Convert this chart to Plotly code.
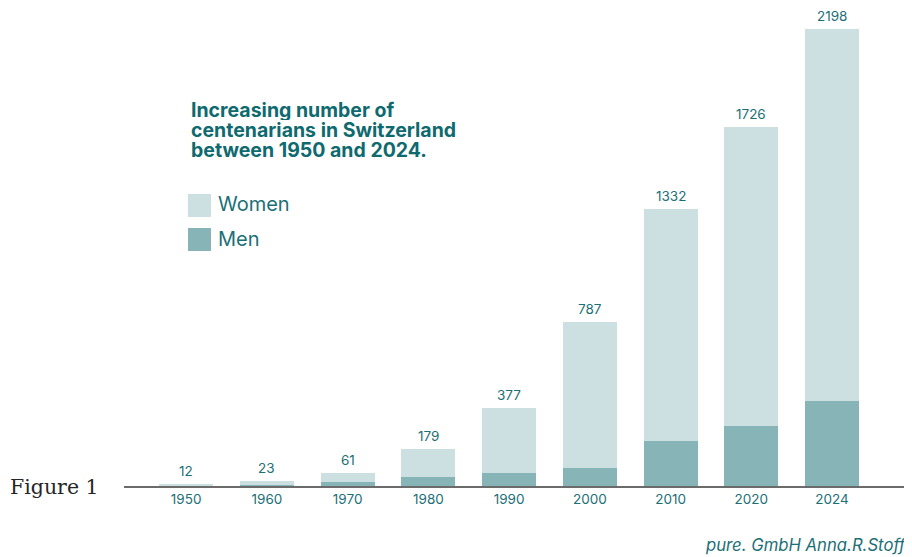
import plotly.graph_objects as go

years = ["1950", "1960", "1970", "1980", "1990", "2000", "2010", "2020", "2024"]
totals = [12, 23, 61, 179, 377, 787, 1332, 1726, 2198]
men = [3, 6, 17, 42, 62, 88, 216, 290, 410]
women = [t - m for t, m in zip(totals, men)]

TEAL = "#1b6f76"
TITLE = "#0e6a6f"
WOMEN_C = "#cce0e2"
MEN_C = "#86b4b7"

OFF = 8  # page body margin
W, H = 912 - OFF, 557 - OFF
L, R, T, B = 124 - OFF, 0, 0, 71
pw, ph = W - L - R, H - T - B


def px(x):
    return (x - OFF - L) / pw


def py(y):
    return (H - B - (y - OFF)) / ph


fig = go.Figure()
fig.add_trace(go.Bar(x=years, y=men, name="Men", marker_color=MEN_C,
                     marker_line_width=0, showlegend=False))
fig.add_trace(go.Bar(x=years, y=women, name="Women", marker_color=WOMEN_C,
                     marker_line_width=0, showlegend=False))

annotations = []
for i, tot in enumerate(totals):
    annotations.append(dict(x=i, y=tot, xref="x", yref="y", text=str(tot),
                            showarrow=False, yanchor="bottom", yshift=3,
                            font=dict(family="Inter", size=13.5, color=TEAL)))

title_lines = ["Increasing number of", "centenarians in Switzerland", "between 1950 and 2024."]
for i, line in enumerate(title_lines):
    annotations.append(dict(x=px(189), y=py(110 + 20 * i), xref="paper", yref="paper",
                            text=f"<b>{line}</b>", showarrow=False, xanchor="left",
                            yanchor="middle", height=20, valign="middle",
                            font=dict(family="Inter", size=19.5, color=TITLE)))
for label, yc in [("Women", 204), ("Men", 239)]:
    annotations.append(dict(x=px(216), y=py(yc), xref="paper", yref="paper", text=label,
                            showarrow=False, xanchor="left", yanchor="middle",
                            font=dict(family="Inter", size=20, color=TEAL)))
annotations.append(dict(x=px(8), y=py(487), xref="paper", yref="paper", text="Figure 1",
                        showarrow=False, xanchor="left", yanchor="middle",
                        font=dict(family="DejaVu Serif", size=20.5, color="#262626")))
annotations.append(dict(x=px(703), y=py(545), xref="paper", yref="paper",
                        text="<i>pure. GmbH Anna.R.Stoffel</i>", showarrow=False,
                        xanchor="left", yanchor="middle",
                        font=dict(family="Inter", size=16.7, color=TEAL)))

shapes = [
    dict(type="rect", xref="paper", yref="paper", x0=px(188), x1=px(211),
         y0=py(194), y1=py(217), fillcolor=WOMEN_C, line_width=0),
    dict(type="rect", xref="paper", yref="paper", x0=px(188), x1=px(211),
         y0=py(228), y1=py(251), fillcolor=MEN_C, line_width=0),
]

fig.update_layout(
    width=W, height=H,
    margin=dict(l=L, r=R, t=T, b=B),
    barmode="stack", bargap=0.33,
    plot_bgcolor="white", paper_bgcolor="white",
    annotations=annotations, shapes=shapes,
    xaxis=dict(type="category", range=[-0.77, 8.99], showgrid=False,
               showline=True, linecolor="#6b6b6b", linewidth=2,
               ticks="", tickfont=dict(family="Inter", size=13.5, color=TEAL)),
    yaxis=dict(range=[0, 2299], visible=False, showgrid=False),
)

fig.write_html("out.html")
